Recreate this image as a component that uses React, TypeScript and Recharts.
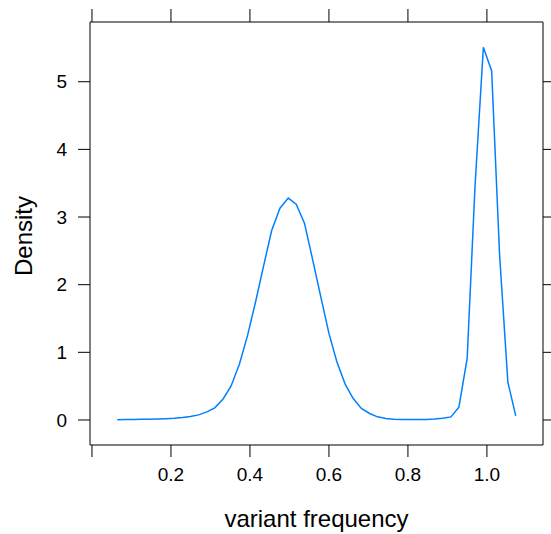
import React from "react";
import { LineChart, Line, XAxis, YAxis, Label } from "recharts";

// density evaluated at 50 points
const frequency = [
  0.064, 0.085, 0.105, 0.126, 0.146, 0.167, 0.188, 0.208, 0.229, 0.249,
  0.27, 0.291, 0.311, 0.332, 0.352, 0.373, 0.394, 0.414, 0.435, 0.455,
  0.476, 0.497, 0.517, 0.538, 0.558, 0.579, 0.6, 0.62, 0.641, 0.661,
  0.682, 0.703, 0.723, 0.744, 0.764, 0.785, 0.806, 0.826, 0.847, 0.867,
  0.888, 0.909, 0.929, 0.95, 0.97, 0.991, 1.012, 1.032, 1.053, 1.073,
];

const density = [
  0.005, 0.006, 0.008, 0.01, 0.012, 0.015, 0.019, 0.025, 0.035, 0.05,
  0.075, 0.12, 0.18, 0.31, 0.5, 0.82, 1.25, 1.74, 2.29, 2.8,
  3.13, 3.28, 3.19, 2.91, 2.39, 1.83, 1.28, 0.86, 0.53, 0.32,
  0.17, 0.096, 0.046, 0.022, 0.012, 0.008, 0.006, 0.006, 0.008, 0.014,
  0.025, 0.045, 0.19, 0.91, 3.47, 5.51, 5.16, 2.45, 0.56, 0.06,
];

const xTicks = [0, 0.2, 0.4, 0.6, 0.8, 1.0];
const yTicks = [0, 1, 2, 3, 4, 5];

const data = frequency.map((f, i) => ({ f, d: density[i] }));

const FONT = "'Liberation Sans', Arial, Helvetica, sans-serif";
const X_DOMAIN: [number, number] = [-0.005, 1.142];
const Y_DOMAIN: [number, number] = [-0.37, 5.883];

const axisLine = { stroke: "#000", strokeWidth: 1 };
const tickLine = { stroke: "#000", strokeWidth: 1 };
const noLabel = { fill: "none", fontSize: 1 };

export default function App() {
  return (
    <div style={{ position: "absolute", left: 0, top: 0, background: "#fff" }}>
      <LineChart
        width={551}
        height={534}
        data={data}
        margin={{ top: 0, right: 0, bottom: 0, left: 0 }}
      >
        <XAxis
          xAxisId="b"
          dataKey="f"
          type="number"
          domain={X_DOMAIN}
          allowDataOverflow
          ticks={xTicks}
          interval={0}
          height={89}
          tickSize={12}
          tickMargin={11}
          axisLine={axisLine}
          tickLine={tickLine}
          tickFormatter={(v: number) => (v === 0 ? "" : v.toFixed(1))}
          tick={{ fill: "#000", fontSize: 19, fontFamily: FONT }}
        >
          <Label
            value="variant frequency"
            position="insideBottom"
            offset={7}
            fill="#000"
            fontSize={24}
            fontFamily={FONT}
          />
        </XAxis>
        <XAxis
          xAxisId="t"
          orientation="top"
          dataKey="f"
          type="number"
          domain={X_DOMAIN}
          allowDataOverflow
          ticks={xTicks}
          interval={0}
          height={22}
          tickSize={13}
          axisLine={axisLine}
          tickLine={tickLine}
          tickFormatter={() => ""}
          tick={noLabel}
        />
        <YAxis
          yAxisId="l"
          type="number"
          domain={Y_DOMAIN}
          allowDataOverflow
          ticks={yTicks}
          interval={0}
          width={90}
          tickSize={12}
          tickMargin={11}
          axisLine={axisLine}
          tickLine={tickLine}
          tick={{ fill: "#000", fontSize: 19, fontFamily: FONT }}
        >
          <Label
            content={() => (
              <text
                x={23}
                y={236}
                transform="rotate(-90 23 236)"
                textAnchor="middle"
                dominantBaseline="central"
                fill="#000"
                fontSize={24}
                fontFamily={FONT}
              >
                Density
              </text>
            )}
          />
        </YAxis>
        <YAxis
          yAxisId="r"
          orientation="right"
          type="number"
          domain={Y_DOMAIN}
          allowDataOverflow
          ticks={yTicks}
          interval={0}
          width={8}
          tickSize={8}
          axisLine={axisLine}
          tickLine={tickLine}
          tickFormatter={() => ""}
          tick={noLabel}
        />
        <Line
          xAxisId="b"
          yAxisId="l"
          dataKey="d"
          type="linear"
          stroke="#0080ff"
          strokeWidth={1.5}
          dot={false}
          isAnimationActive={false}
        />
      </LineChart>
    </div>
  );
}
